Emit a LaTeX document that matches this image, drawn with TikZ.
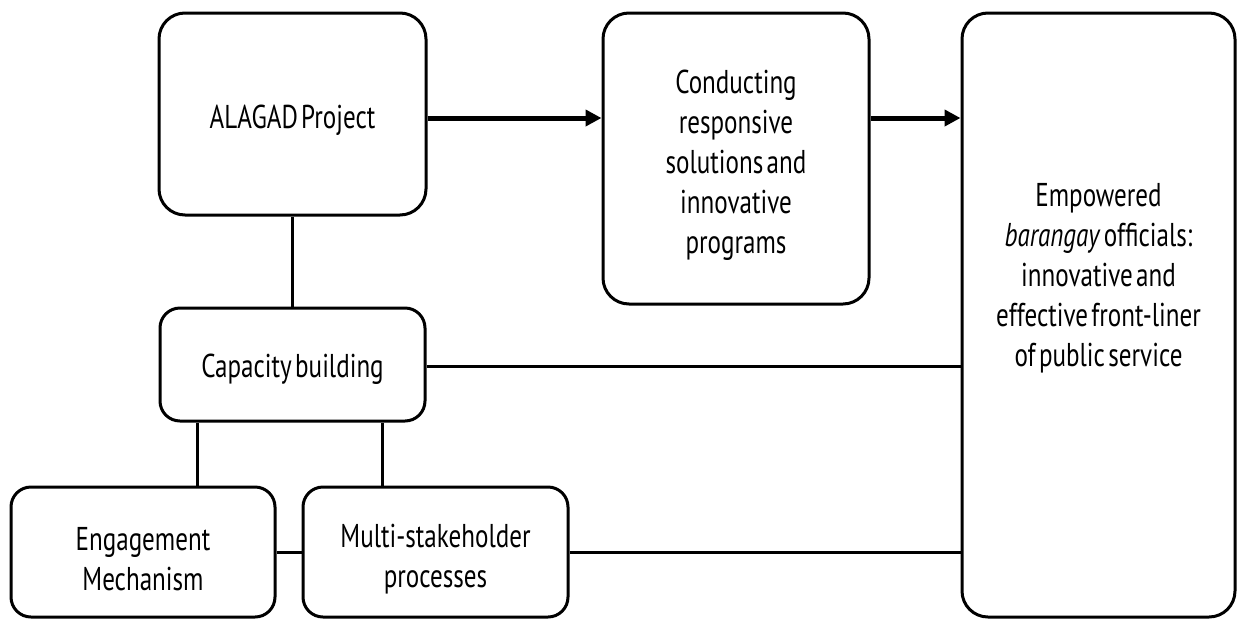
\documentclass[tikz,border=0pt]{standalone}
\usepackage{fontspec}
\setmainfont{PT Sans}[FakeStretch=0.76,WordSpace=0.5]
\usetikzlibrary{arrows.meta,calc}
\begin{document}
\begin{tikzpicture}[x=0.5pt,y=-0.5pt,
  box/.style={draw,line width=1.5pt,rounded corners=13pt,inner sep=0pt},
  smallbox/.style={box,rounded corners=10pt},
  txt/.style={align=center,inner sep=0pt,font=\fontsize{16.5}{20}\selectfont},
  link/.style={line width=1.5pt},
  arr/.style={line width=2.5pt,-{Triangle[length=8pt,width=8pt]}}]
\useasboundingbox (0,0) rectangle (1248,622);
\node[box,minimum width=133.5pt,minimum height=101pt] (alagad) at (292.5,114) {};
\node[box,minimum width=133pt,minimum height=145.5pt] (cond) at (736,158.5) {};
\node[box,minimum width=136.5pt,minimum height=302pt] (emp) at (1098.5,315) {};
\node[smallbox,minimum width=132.5pt,minimum height=56.5pt] (cap) at (292.5,364.5) {};
\node[smallbox,minimum width=132pt,minimum height=65pt] (eng) at (143,552) {};
\node[smallbox,minimum width=132.5pt,minimum height=65pt] (multi) at (435.5,552) {};
\node[txt] (alagad-t) at ([yshift=-3pt]alagad.center) {ALAGAD Project};
\node[txt] (cond-t) at ([yshift=-3.5pt]cond.center) {Conducting\\responsive\\solutions and\\innovative\\programs};
\node[txt] (emp-t) at ([yshift=18.5pt]emp.center) {Empowered\\\textit{barangay} officials:\\innovative and\\effective front-liner\\of public service};
\node[txt] (cap-t) at ([yshift=-2.5pt]cap.center) {Capacity building};
\node[txt] (eng-t) at ([yshift=-3.5pt]eng.center) {Engagement\\Mechanism};
\node[txt] (multi-t) at ([yshift=-3.5pt]multi.center) {Multi-stakeholder\\processes};
\draw[arr] ([yshift=-2pt]alagad.east) -- ([yshift=-2pt]alagad.east -| cond.west);
\draw[arr] ([yshift=-2pt]cond.east |- alagad.east) -- ([yshift=-2pt]emp.west |- alagad.east);
\draw[link] (alagad.south) -- (cap.north);
\draw[link] ([yshift=-1pt]cap.east) -- ([yshift=-1pt]cap.east -| emp.west);
\draw[link] ([xshift=-47.75pt]cap.south) -- ([xshift=-47.75pt]cap.south |- eng.north);
\draw[link] ([xshift=44.75pt]cap.south) -- ([xshift=44.75pt]cap.south |- multi.north);
\draw[link] (eng.east) -- (multi.west);
\draw[link] (multi.east) -- (multi.east -| emp.west);
\end{tikzpicture}
\end{document}
